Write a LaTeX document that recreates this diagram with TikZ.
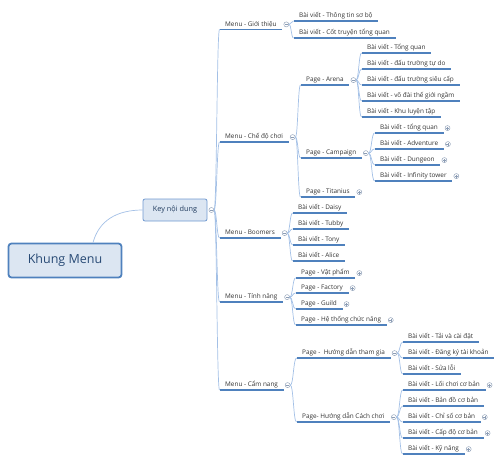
\documentclass[tikz,border=0pt]{standalone}
\usepackage{fontspec}
\setmainfont{Open Sans}
\usetikzlibrary{calc}
\definecolor{cTxt}{HTML}{333333}
\definecolor{cUl}{HTML}{4F81BD}
\definecolor{cLink}{HTML}{A3C0E6}
\definecolor{cFill}{HTML}{DCE6F2}
\definecolor{cDraw}{HTML}{4F81BD}
\definecolor{cKey}{HTML}{7099D0}
\definecolor{cCirc}{HTML}{8C9DB5}
\definecolor{cTitle}{HTML}{284A75}
\tikzset{
  topic/.style={anchor=south west, font=\fontsize{6.4}{7}\selectfont, text=cTxt,
    inner xsep=5.5pt, inner ysep=1.5pt, text height=4.8pt, text depth=1.6pt},
  ul/.style={draw=cUl, line width=1.1pt},
  link/.style={draw=cLink, line width=0.7pt},
  mainbox/.style={draw=cDraw, line width=1.8pt, fill=cFill, rounded corners=3pt,
    minimum width=113pt, minimum height=34pt, text=cTitle,
    font=\fontsize{12.5}{14}\selectfont},
  keybox/.style={draw=cKey, line width=0.8pt, fill=cFill, rounded corners=2pt,
    minimum width=64pt, minimum height=22pt, text=cTitle!80!black,
    font=\fontsize{7.3}{8}\selectfont},
  cbase/.style={circle, draw=cCirc, fill=white, line width=0.45pt, minimum size=5pt, inner sep=0pt},
  collapse/.style={cbase, path picture={\draw[cCirc, line width=0.45pt]
    ([xshift=-1.5pt]path picture bounding box.center) -- ([xshift=1.5pt]path picture bounding box.center);}},
  expand/.style={cbase, path picture={\draw[cCirc, line width=0.45pt]
    ([xshift=-1.5pt]path picture bounding box.center) -- ([xshift=1.5pt]path picture bounding box.center)
    ([yshift=-1.5pt]path picture bounding box.center) -- ([yshift=1.5pt]path picture bounding box.center);}},
}
\newcommand\mmlink[2]{\draw[link] let \p1=(#1.east), \p2=(#2.south west) in
  (\p1) .. controls (0.5*\x1+0.5*\x2,\y1) and (0.5*\x1+0.5*\x2,\y2) .. (\p2);}
\begin{document}
\begin{tikzpicture}[x=1pt, y=-1pt]
\useasboundingbox (0,0) rectangle (503,463);
% root
\node[mainbox] (khung) at (65,260.5) {Khung Menu};
\node[keybox] (key) at (175,210) {Key nội dung};
\node[collapse] (ck) at ([xshift=4pt]key.east) {};
\draw[link] ([xshift=28pt]khung.north) .. controls +(6,-22) and +(-26,0) .. (key.west);
% level 1
\node[topic] (m1) at (219.5,29.3) {Menu - Giới thiệu};
\node[topic] (m2) at (219.5,142) {Menu - Chế độ chơi};
\node[topic] (m3) at (219.5,238) {Menu - Boomers};
\node[topic] (m4) at (219.5,302) {Menu - Tính năng};
\node[topic] (m5) at (219.5,390) {Menu - Cẩm nang};
\foreach \q in {m1,m2,m3,m4,m5}{\node[collapse] (c\q) at ([xshift=4pt]\q.east) {};}
% Gioi thieu
\node[topic] (g1) at (293.5,21) {Bài viết - Thông tin sơ bộ};
\node[topic] (g2) at (293.5,38) {Bài viết - Cốt truyện tổng quan};
% Che do choi
\node[topic] (p1) at (300.5,85) {Page - Arena};
\node[topic] (p2) at (300.5,158) {Page - Campaign};
\node[topic] (p3) at (300.5,197) {Page - Titanius};
\node[collapse] (cp1) at ([xshift=4pt]p1.east) {};
\node[collapse] (cp2) at ([xshift=4pt]p2.east) {};
\node[expand] (ep3) at ([xshift=4pt]p3.east) {};
% Arena
\node[topic] (a1) at (361.5,53) {Bài viết - Tổng quan};
\node[topic] (a2) at (361.5,69) {Bài viết - đấu trường tự do};
\node[topic] (a3) at (361.5,85) {Bài viết - đấu trường siêu cấp};
\node[topic] (a4) at (361.5,101) {Bài viết - võ đài thế giới ngầm};
\node[topic] (a5) at (361.5,117) {Bài viết - Khu luyện tập};
% Campaign
\node[topic] (c1) at (374.5,133) {Bài viết - tổng quan};
\node[topic] (c2) at (374.5,149) {Bài viết - Adventure};
\node[topic] (c3) at (374.5,165) {Bài viết - Dungeon};
\node[topic] (c4) at (374.5,181) {Bài viết - Infinity tower};
% Boomers
\node[topic] (b1) at (292.5,213) {Bài viết - Daisy};
\node[topic] (b2) at (292.5,229) {Bài viết - Tubby};
\node[topic] (b3) at (292.5,245) {Bài viết - Tony};
\node[topic] (b4) at (292.5,261) {Bài viết - Alice};
% Tinh nang
\node[topic] (t1) at (295.5,278) {Page - Vật phẩm};
\node[topic] (t2) at (295.5,293) {Page - Factory};
\node[topic] (t3) at (295.5,309) {Page - Guild};
\node[topic] (t4) at (295.5,325) {Page - Hệ thống chức năng};
% Cam nang
\node[topic] (h1) at (296.5,358) {Page -~ Hướng dẫn tham gia};
\node[topic] (h2) at (296.5,422) {Page- Hướng dẫn Cách chơi};
\node[collapse] (ch1) at ([xshift=4pt]h1.east) {};
\node[collapse] (ch2) at ([xshift=4pt]h2.east) {};
\node[topic] (j1) at (402.5,342) {Bài viết - Tải và cài đặt};
\node[topic] (j2) at (402.5,358) {Bài viết - Đăng ký tài khoản};
\node[topic] (j3) at (402.5,374) {Bài viết - Sửa lỗi};
\node[topic] (k1) at (402.5,390) {Bài viết - Lối chơi cơ bản};
\node[topic] (k2) at (402.5,406) {Bài viết - Bản đồ cơ bản};
\node[topic] (k3) at (402.5,422) {Bài viết - Chỉ số cơ bản};
\node[topic] (k4) at (402.5,438) {Bài viết - Cấp độ cơ bản};
\node[topic] (k5) at (402.5,454) {Bài viết - Kỹ năng};
% expand markers
\foreach \q in {c1,c2,c3,c4,t1,t2,t3,t4,k1,k3,k4,k5}{\node[expand] (e\q) at ([xshift=4pt]\q.east) {};}
% underlines
\foreach \q in {m1,m2,m3,m4,m5,g1,g2,p1,p2,p3,a1,a2,a3,a4,a5,c1,c2,c3,c4,b1,b2,b3,b4,t1,t2,t3,t4,h1,h2,j1,j2,j3,k1,k2,k3,k4,k5}
  {\draw[ul] (\q.south west) -- (\q.south east);}
% links
\foreach \q in {m1,m2,m3,m4,m5}{\mmlink{ck}{\q}}
\foreach \q in {g1,g2}{\mmlink{cm1}{\q}}
\foreach \q in {p1,p2,p3}{\mmlink{cm2}{\q}}
\foreach \q in {a1,a2,a3,a4,a5}{\mmlink{cp1}{\q}}
\foreach \q in {c1,c2,c3,c4}{\mmlink{cp2}{\q}}
\foreach \q in {b1,b2,b3,b4}{\mmlink{cm3}{\q}}
\foreach \q in {t1,t2,t3,t4}{\mmlink{cm4}{\q}}
\foreach \q in {h1,h2}{\mmlink{cm5}{\q}}
\foreach \q in {j1,j2,j3}{\mmlink{ch1}{\q}}
\foreach \q in {k1,k2,k3,k4,k5}{\mmlink{ch2}{\q}}
\end{tikzpicture}
\end{document}
